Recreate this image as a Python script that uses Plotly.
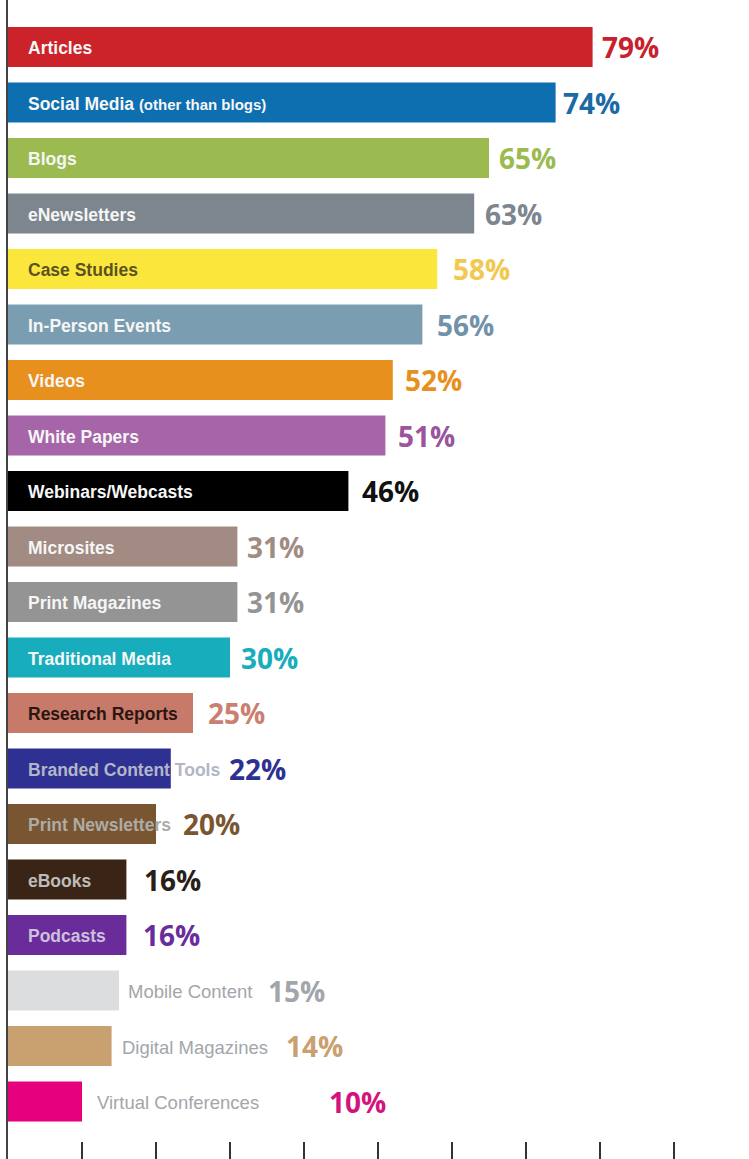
import plotly.graph_objects as go

categories = ["Articles", "Social Media", "Blogs", "eNewsletters", "Case Studies",
              "In-Person Events", "Videos", "White Papers", "Webinars/Webcasts",
              "Microsites", "Print Magazines", "Traditional Media", "Research Reports",
              "Branded Content Tools", "Print Newsletters", "eBooks", "Podcasts",
              "Mobile Content", "Digital Magazines", "Virtual Conferences"]
values = [79, 74, 65, 63, 58, 56, 52, 51, 46, 31, 31, 30, 25, 22, 20, 16, 16, 15, 14, 10]
value_labels = [f"{v}%" for v in values]
name_labels = list(categories)
name_labels[1] = 'Social Media <span style="font-size:15px">(other than blogs)</span>'

bar_colors = ["#cc2229", "#0d6eb0", "#9bbb50", "#7d868e", "#fbe73b",
              "#7b9db2", "#e8901e", "#a765a9", "#000000", "#a18b82",
              "#949494", "#17adbd", "#c87a6a", "#2e3192", "#7a5532",
              "#3a2415", "#6b2c9b", "#dcdddf", "#c9a06f", "#e6007e"]
value_colors = ["#c8202c", "#1a6aa3", "#9bbb50", "#7d868e", "#f2c84e",
                "#7292aa", "#e8901e", "#9a559e", "#111111", "#a18b82",
                "#949494", "#17adbd", "#c98070", "#2e3192", "#7a5532",
                "#2a1e18", "#6b2c9b", "#a2a6aa", "#c9a06f", "#d4137d"]
name_colors = ["#f6f6f6"] * 4 + ["#5b5222"] + ["#f6f6f6"] * 7 + ["#2b1510",
               "#b3b6c6", "#acaca6", "#bdbdbd", "#cbc1da", "#a2a6aa", "#a2a6aa", "#a2a6aa"]
# style: label placement (pixel offsets)
name_inside = [True] * 17 + [False] * 3
name_pad = [18] * 17 + [7, 8, 13]
value_pad = [7, 5, 8, 9, 14, 13, 10, 11, 12, 8, 8, 9, 13, 56, 25, 16, 15, 147, 172, 245]

NAME_FONT = "Liberation Sans, Arial, sans-serif"
VAL_FONT = "Open Sans, Noto Sans, DejaVu Sans, sans-serif"

fig = go.Figure(go.Bar(
    x=values, y=categories, orientation="h",
    marker=dict(color=bar_colors, line=dict(width=0)),
    width=0.72, hoverinfo="skip",
))

ann = []
for i, c in enumerate(categories):
    txt = f"<b>{name_labels[i]}</b>" if name_inside[i] else name_labels[i]
    ann.append(dict(
        x=0 if name_inside[i] else values[i], y=c, xref="x", yref="y",
        text=txt, showarrow=False, xanchor="left", yanchor="middle",
        xshift=name_pad[i], yshift=-1,
        font=dict(family=NAME_FONT, size=17.5 if name_inside[i] else 18.5, color=name_colors[i]),
    ))
    ann.append(dict(
        x=values[i], y=c, xref="x", yref="y",
        text=f"<b>{value_labels[i]}</b>", showarrow=False, xanchor="left", yanchor="middle",
        xshift=value_pad[i], yshift=0,
        font=dict(family=VAL_FONT, size=28, color=value_colors[i]),
    ))

fig.update_layout(
    width=749, height=1159,
    margin=dict(l=8, r=1, t=0, b=0),
    paper_bgcolor="white", plot_bgcolor="white",
    showlegend=False, annotations=ann,
    xaxis=dict(range=[0, 100], tickvals=list(range(0, 100, 10)), ticks="inside",
               ticklen=17, tickwidth=2, tickcolor="#333333", showticklabels=False,
               showgrid=False, zeroline=False, showline=False, fixedrange=True),
    yaxis=dict(range=[20.036, -0.847], showline=True, linecolor="#444444", linewidth=2,
               showticklabels=False, ticks="", showgrid=False, zeroline=False, fixedrange=True),
)

fig.write_html("out.html")
